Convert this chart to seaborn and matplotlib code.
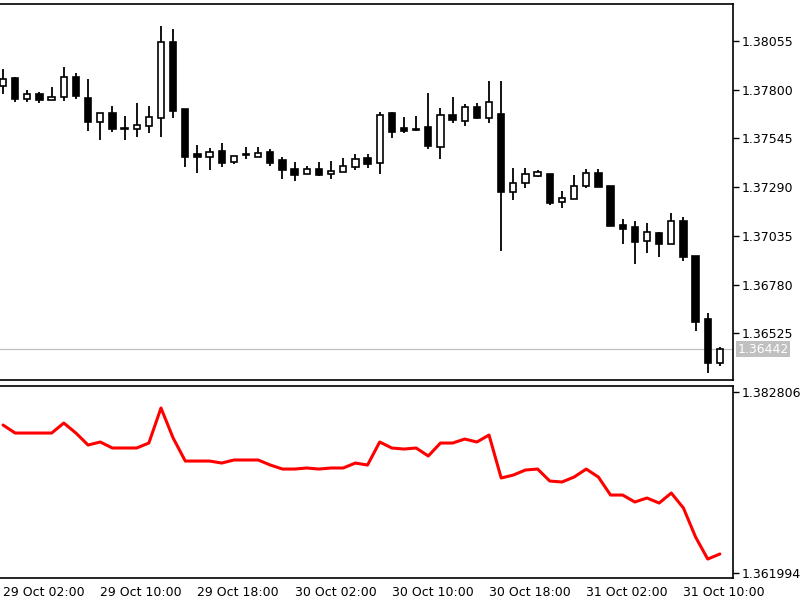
import numpy as np
import pandas as pd
import seaborn as sns
import matplotlib
matplotlib.use("Agg")
import matplotlib.pyplot as plt
import matplotlib.transforms as mtransforms

# hourly bars, 29 Oct 02:00 -> 31 Oct 13:00
times = pd.date_range("2024-10-29 02:00", periods=60, freq="h")

opens = [1.37819, 1.37861, 1.37751, 1.37778, 1.37746, 1.37762, 1.37866, 1.37757, 1.37631, 1.37678,
         1.37599, 1.37594, 1.37610, 1.37652, 1.38050, 1.37699, 1.37463, 1.37448, 1.37479, 1.37421,
         1.37463, 1.37448, 1.37474, 1.37432, 1.37385, 1.37359, 1.37385, 1.37359, 1.37369, 1.37395,
         1.37442, 1.37416, 1.37678, 1.37599, 1.37594, 1.37605, 1.37500, 1.37668, 1.37636, 1.37709,
         1.37652, 1.37673, 1.37264, 1.37311, 1.37348, 1.37359, 1.37212, 1.37228, 1.37296, 1.37364,
         1.37296, 1.37091, 1.37081, 1.37008, 1.37050, 1.36992, 1.37112, 1.36929, 1.36599, 1.36369]
highs = [1.37908, 1.37866, 1.37798, 1.37788, 1.37814, 1.37919, 1.37887, 1.37856, 1.37678, 1.37715,
         1.37662, 1.37730, 1.37715, 1.38134, 1.38118, 1.37699, 1.37510, 1.37495, 1.37521, 1.37453,
         1.37500, 1.37500, 1.37490, 1.37448, 1.37421, 1.37400, 1.37421, 1.37427, 1.37442, 1.37463,
         1.37463, 1.37683, 1.37683, 1.37657, 1.37662, 1.37783, 1.37704, 1.37762, 1.37725, 1.37730,
         1.37846, 1.37846, 1.37390, 1.37390, 1.37380, 1.37359, 1.37270, 1.37353, 1.37385, 1.37385,
         1.37296, 1.37123, 1.37112, 1.37102, 1.37055, 1.37154, 1.37133, 1.36929, 1.36631, 1.36453]
lows = [1.37778, 1.37736, 1.37736, 1.37730, 1.37746, 1.37741, 1.37751, 1.37584, 1.37537, 1.37579,
        1.37537, 1.37552, 1.37573, 1.37552, 1.37652, 1.37395, 1.37364, 1.37380, 1.37395, 1.37411,
        1.37437, 1.37448, 1.37400, 1.37332, 1.37322, 1.37359, 1.37348, 1.37332, 1.37369, 1.37380,
        1.37390, 1.37359, 1.37547, 1.37573, 1.37584, 1.37490, 1.37437, 1.37626, 1.37610, 1.37647,
        1.37626, 1.36955, 1.37222, 1.37285, 1.37343, 1.37196, 1.37181, 1.37228, 1.37285, 1.37291,
        1.37086, 1.36992, 1.36887, 1.36945, 1.36924, 1.36992, 1.36903, 1.36537, 1.36317, 1.36353]
closes = [1.37856, 1.37751, 1.37778, 1.37746, 1.37762, 1.37866, 1.37767, 1.37631, 1.37678, 1.37594,
          1.37594, 1.37615, 1.37657, 1.38050, 1.37688, 1.37448, 1.37448, 1.37474, 1.37416, 1.37453,
          1.37458, 1.37469, 1.37416, 1.37380, 1.37353, 1.37385, 1.37353, 1.37374, 1.37400, 1.37437,
          1.37411, 1.37668, 1.37579, 1.37584, 1.37589, 1.37505, 1.37668, 1.37641, 1.37709, 1.37652,
          1.37736, 1.37264, 1.37311, 1.37359, 1.37369, 1.37207, 1.37233, 1.37296, 1.37364, 1.37291,
          1.37086, 1.37071, 1.37003, 1.37055, 1.36992, 1.37112, 1.36924, 1.36584, 1.36369, 1.36442]

# indicator window line
ind_values = [1.37901, 1.37809, 1.37809, 1.37809, 1.37809, 1.37924, 1.37809, 1.37671, 1.37706, 1.37637,
              1.37637, 1.37637, 1.37694, 1.38097, 1.37752, 1.37487, 1.37487, 1.37487, 1.37464, 1.37499,
              1.37499, 1.37499, 1.37441, 1.37395, 1.37395, 1.37407, 1.37395, 1.37407, 1.37407, 1.37464,
              1.37441, 1.37706, 1.37637, 1.37625, 1.37637, 1.37545, 1.37694, 1.37694, 1.37740, 1.37706,
              1.37786, 1.37292, 1.37326, 1.37384, 1.37395, 1.37257, 1.37246, 1.37303, 1.37395, 1.37303,
              1.37096, 1.37096, 1.37016, 1.37062, 1.37004, 1.37119, 1.36947, 1.36613, 1.36360, 1.36418]

price_ticks = [1.38055, 1.37800, 1.37545, 1.37290, 1.37035, 1.36780, 1.36525]
ind_ticks = [1.382806, 1.361994]
last_price = 1.36442
time_tick_idx = [0, 8, 16, 24, 32, 40, 48, 56]

sns.set_style("white")
plt.rcParams["font.family"] = ["DejaVu Sans"]
plt.rcParams["font.size"] = 9

df = pd.DataFrame({"o": opens, "h": highs, "l": lows, "c": closes, "ind": ind_values})
df["i"] = np.arange(len(df))
df["up"] = df["c"] >= df["o"]
df["bot"] = df[["o", "c"]].min(axis=1)
df["hgt"] = (df["c"] - df["o"]).abs()

fig = plt.figure(figsize=(8, 6), dpi=100)
ax = fig.add_axes([0.0, 1 - 380 / 600, 733 / 800, 376 / 600])
ax2 = fig.add_axes([0.0, 1 - 578 / 600, 733 / 800, 192 / 600])

# candles: wicks then bodies
ax.vlines(df["i"], df["l"], df["h"], color="black", lw=1.3, zorder=2)
ax.bar(df["i"], df["hgt"], bottom=df["bot"], width=0.52,
       color=np.where(df["up"], "white", "black"), edgecolor="black", linewidth=1.2, zorder=3)

ax.axhline(last_price, color="#c0c0c0", lw=0.9, zorder=1)

ax.set_xlim(-0.25, 60.08)
ax.set_ylim(1.36280, 1.38249)
ax.yaxis.tick_right()
ax.set_yticks(price_ticks)
ax.set_yticklabels([f"{t:.5f}" for t in price_ticks])
ax.set_xticks([])
ax.tick_params(axis="y", direction="out", length=4, width=1, pad=2, colors="black")

trans = mtransforms.blended_transform_factory(ax.transAxes, ax.transData)
ax.text(1.006, last_price, f"{last_price:.5f}", transform=trans, va="center", ha="left",
        color="white", fontsize=9, bbox=dict(fc="#c0c0c0", ec="none", pad=1.2))

# indicator
sns.lineplot(x="i", y="ind", data=df, ax=ax2, color="#ff0000", lw=2.2)
ax2.set_xlim(-0.25, 60.08)
ax2.set_ylim(1.36142, 1.38350)
ax2.yaxis.tick_right()
ax2.set_yticks(ind_ticks)
ax2.set_yticklabels([f"{t:.6f}" for t in ind_ticks])
ax2.set_xticks(time_tick_idx)
ax2.set_xticklabels([times[k].strftime("%d %b %H:%M") for k in time_tick_idx])
for lab in ax2.get_xticklabels():
    lab.set_ha("left")
ax2.tick_params(axis="both", direction="out", length=4, width=1, pad=2, colors="black")
ax2.set_xlabel("")
ax2.set_ylabel("")

for a in (ax, ax2):
    a.spines["left"].set_visible(False)
    for s in ("top", "right", "bottom"):
        a.spines[s].set_color("black")
        a.spines[s].set_linewidth(1.2)
    a.grid(False)

fig.savefig("out.png", dpi=100)
